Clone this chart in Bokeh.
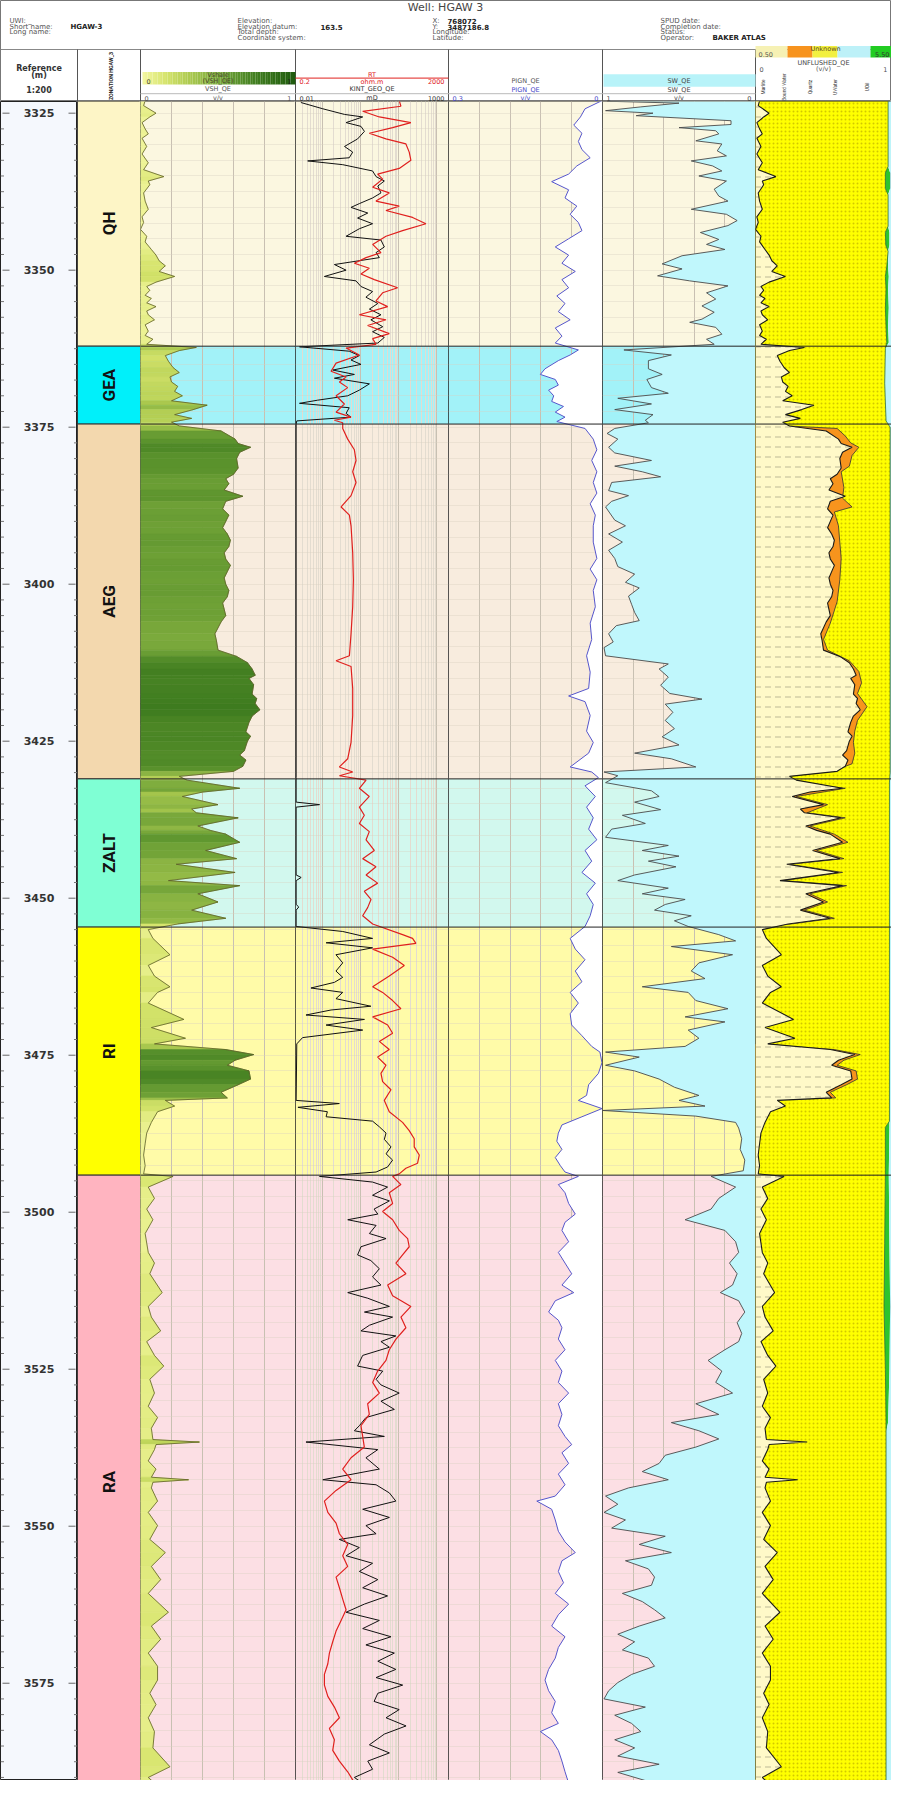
import numpy as np
from bokeh.plotting import figure
from bokeh.layouts import column, row
from bokeh.models import Range1d, LogScale, FixedTicker, Span
from bokeh.core.properties import value
from bokeh.embed import file_html
from bokeh.resources import INLINE

# ---------------- zonation / reference ----------------
ZONE_NAMES = ["QH", "GEA", "AEG", "ZALT", "RI", "RA"]
ZONE_TOPS = [3323.0, 3362.1, 3374.5, 3431.0, 3454.6, 3494.1]
ZONE_BASES = [3362.1, 3374.5, 3431.0, 3454.6, 3494.1, 3592.0]
ZONE_COLORS = ["#FDF5C6", "#00F0FA", "#F3D8AE", "#7FFFD4", "#FFFF00", "#FFB4C0"]
TRACK_TINTS = ["#FBF7E0", "#A2F2F8", "#F8ECDE", "#D2F8EE", "#FFFBA8", "#FCDFE4"]
DEPTH_LABELS = [3325, 3350, 3375, 3400, 3425, 3450, 3475, 3500, 3525, 3550, 3575]

# ---------------- VSH_QE (v/v) ----------------
VSH_DEPTH = [
    3323.0, 3323.8, 3325.0, 3325.6, 3326.5, 3327.5, 3328.3, 3329.0, 3330.3, 3331.5,
    3332.9, 3334.0, 3335.1, 3335.8, 3336.4, 3337.7, 3339.0, 3340.3, 3341.5, 3342.4,
    3343.5, 3344.6, 3345.5, 3346.7, 3347.6, 3348.5, 3349.3, 3350.2, 3351.0, 3351.9,
    3352.6, 3353.2, 3354.0, 3354.5, 3355.2, 3355.8, 3356.5, 3357.1, 3357.9, 3358.7,
    3359.7, 3360.4, 3361.0, 3361.8,
    3362.3, 3362.8, 3363.6, 3364.5, 3365.5, 3366.3, 3367.0, 3367.8, 3368.5, 3369.3,
    3370.0, 3370.8, 3371.5, 3372.2, 3373.0, 3373.6, 3374.2,
    3374.8, 3375.6, 3376.9, 3377.6, 3378.2, 3379.0, 3380.0, 3381.5, 3382.5, 3383.2,
    3384.0, 3385.0, 3386.0, 3386.8, 3388.0, 3389.0, 3390.0, 3391.0, 3392.0, 3393.0,
    3394.0, 3395.0, 3396.0, 3397.0, 3398.0, 3399.0, 3400.0, 3401.0, 3402.0, 3403.0,
    3404.0, 3405.0, 3406.0, 3407.9, 3409.0, 3410.5, 3411.5, 3412.5, 3413.5, 3414.5,
    3415.0, 3416.0, 3417.5, 3418.2, 3419.0, 3420.0, 3421.0, 3422.0, 3423.5, 3424.2,
    3425.0, 3426.5, 3427.2, 3428.0, 3429.0, 3429.8, 3430.6,
    3431.2, 3432.5, 3433.1, 3433.8, 3435.1, 3435.8, 3436.4, 3437.2, 3438.5, 3439.2,
    3439.8, 3441.1, 3442.4, 3443.7, 3444.6, 3445.9, 3447.2, 3448.0, 3449.3, 3450.6,
    3451.9, 3453.2, 3454.1,
    3455.0, 3456.4, 3459.0, 3460.7, 3462.4, 3464.1, 3465.0, 3466.7, 3469.3, 3470.6,
    3472.3, 3473.2, 3474.1, 3474.9, 3475.8, 3476.6, 3477.5, 3478.8, 3479.7, 3480.9,
    3481.8, 3482.2, 3483.1, 3484.0, 3485.7, 3487.4, 3489.1, 3490.9, 3492.6, 3493.9,
    3494.3, 3496.0, 3497.8, 3499.5, 3501.2, 3503.4, 3506.4, 3508.1, 3509.8, 3512.8,
    3515.0, 3516.7, 3518.9, 3520.6, 3522.8, 3524.5, 3526.6, 3528.8, 3530.9, 3532.7,
    3534.4, 3536.2, 3536.6, 3537.0, 3537.8, 3539.6, 3540.9, 3542.2, 3542.6, 3543.0,
    3543.9, 3546.0, 3547.8, 3549.9, 3552.1, 3554.2, 3556.4, 3558.5, 3560.7, 3563.7,
    3565.9, 3568.0, 3570.2, 3572.3, 3574.5, 3576.6, 3578.4, 3580.5, 3582.7, 3585.3,
    3588.3, 3590.0, 3591.3]
VSH = [
    0.03, 0.02, 0.10, 0.06, 0.01, 0.03, 0.05, 0.01, 0.04, 0.01,
    0.05, 0.02, 0.15, 0.05, 0.06, 0.02, 0.03, 0.05, 0.01, 0.02,
    0.00, 0.04, 0.03, 0.07, 0.10, 0.12, 0.16, 0.12, 0.22, 0.10,
    0.04, 0.06, 0.03, 0.07, 0.04, 0.10, 0.04, 0.05, 0.09, 0.03,
    0.05, 0.03, 0.08, 0.04,
    0.36, 0.25, 0.16, 0.18, 0.21, 0.25, 0.19, 0.20, 0.24, 0.22,
    0.27, 0.20, 0.43, 0.34, 0.22, 0.33, 0.20,
    0.25, 0.52, 0.61, 0.63, 0.71, 0.64, 0.62, 0.63, 0.60, 0.55,
    0.57, 0.54, 0.66, 0.55, 0.53, 0.57, 0.55, 0.53, 0.56, 0.58,
    0.57, 0.54, 0.55, 0.58, 0.56, 0.54, 0.55, 0.57, 0.56, 0.53,
    0.54, 0.55, 0.52, 0.48, 0.49, 0.50, 0.62, 0.69, 0.72, 0.74,
    0.70, 0.73, 0.72, 0.75, 0.74, 0.77, 0.72, 0.70, 0.68, 0.71,
    0.69, 0.67, 0.64, 0.68, 0.66, 0.60, 0.25,
    0.30, 0.64, 0.40, 0.27, 0.50, 0.33, 0.36, 0.63, 0.37, 0.45,
    0.55, 0.64, 0.42, 0.62, 0.23, 0.61, 0.18, 0.64, 0.37, 0.50,
    0.33, 0.55, 0.24,
    0.05, 0.08, 0.19, 0.05, 0.09, 0.19, 0.11, 0.05, 0.28, 0.07,
    0.29, 0.09, 0.55, 0.73, 0.61, 0.56, 0.70, 0.71, 0.63, 0.52,
    0.56, 0.16, 0.22, 0.11, 0.07, 0.04, 0.03, 0.02, 0.03, 0.02,
    0.21, 0.05, 0.09, 0.04, 0.08, 0.03, 0.05, 0.09, 0.06, 0.14,
    0.05, 0.07, 0.13, 0.04, 0.09, 0.15, 0.06, 0.09, 0.05, 0.11,
    0.07, 0.08, 0.38, 0.10, 0.09, 0.05, 0.10, 0.07, 0.31, 0.08,
    0.07, 0.11, 0.05, 0.11, 0.06, 0.16, 0.07, 0.13, 0.05, 0.18,
    0.07, 0.13, 0.05, 0.11, 0.11, 0.06, 0.10, 0.05, 0.09, 0.08,
    0.19, 0.05, 0.11]

# ---------------- RT (ohm.m) ----------------
RT_DEPTH = [
    3323.0, 3323.9, 3324.7, 3325.6, 3326.5, 3327.3, 3328.2, 3329.1, 3329.9, 3331.2,
    3332.5, 3333.8, 3334.7, 3335.5, 3336.8, 3337.7, 3339.0, 3339.8, 3340.5, 3341.6,
    3342.6, 3343.7, 3344.6, 3345.9, 3347.2, 3348.0, 3348.9, 3349.7, 3350.6, 3351.5,
    3352.8, 3353.6, 3354.9, 3355.8, 3357.1, 3357.9, 3358.8, 3360.1, 3360.9, 3361.8,
    3362.4, 3363.5, 3364.8, 3366.1, 3367.0, 3367.8, 3368.7, 3370.0, 3371.3, 3372.6,
    3373.4, 3373.9, 3374.3,
    3375.2, 3376.9, 3378.6, 3380.3, 3382.1, 3383.8, 3385.9, 3387.7, 3389.0, 3390.7,
    3395.0, 3399.3, 3403.6, 3407.9, 3411.4, 3412.2, 3413.1, 3416.6, 3420.9, 3425.2,
    3427.8, 3429.1, 3429.9, 3430.5,
    3431.2, 3432.5, 3433.8, 3435.5, 3436.8, 3438.1, 3439.4, 3440.7, 3442.4, 3443.7,
    3445.0, 3446.3, 3447.6, 3448.9, 3450.2, 3451.5, 3452.8, 3454.1,
    3455.8, 3456.4, 3457.2, 3458.1, 3459.4, 3460.7, 3462.4, 3464.1, 3465.0, 3466.3,
    3467.6, 3468.9, 3470.2, 3471.5, 3472.8, 3474.1, 3475.3, 3476.6, 3477.9, 3479.2,
    3480.5, 3482.2, 3484.0, 3485.7, 3487.0, 3488.3, 3489.6, 3490.9, 3492.2, 3493.0,
    3493.9,
    3494.3, 3495.6, 3496.9, 3498.6, 3499.9, 3501.2, 3502.9, 3504.2, 3505.5, 3506.8,
    3508.1, 3509.8, 3511.6, 3513.3, 3515.0, 3516.7, 3518.4, 3520.2, 3521.9, 3523.6,
    3525.3, 3527.1, 3528.8, 3530.5, 3532.2, 3534.0, 3535.7, 3537.4, 3539.1, 3540.9,
    3542.6, 3544.3, 3546.0, 3547.8, 3549.5, 3551.2, 3552.9, 3554.7, 3556.4, 3558.1,
    3559.8, 3561.6, 3563.3, 3565.0, 3566.7, 3568.4, 3570.2, 3571.9, 3573.6, 3575.3,
    3577.1, 3578.8, 3580.5, 3582.2, 3584.0, 3585.7, 3587.4, 3589.1, 3590.4, 3591.3]
RT = [
    103, 114, 11.4, 31.1, 208, 69.2, 17.0, 46.4, 154, 188,
    208, 103, 28.1, 37.9, 20.8, 56.6, 25.4, 103, 46.4, 230,
    513, 126, 46.4, 20.8, 34.3, 14.0, 6.92, 17.0, 10.3, 23.0,
    93.5, 37.9, 25.4, 51.3, 9.35, 46.4, 15.4, 56.6, 20.8, 25.4,
    4.20, 9.35, 2.30, 1.70, 4.20, 2.81, 4.63, 2.30, 3.79, 2.30,
    5.66, 2.08, 3.43,
    3.43, 4.63, 6.92, 7.65, 6.26, 7.65, 5.66, 3.11, 5.13, 5.66,
    6.26, 6.52, 6.26, 5.66, 5.13, 2.30, 5.66, 6.26, 6.26, 5.66,
    4.63, 2.81, 6.26, 2.81,
    14.0, 9.35, 17.0, 9.35, 12.6, 9.35, 17.0, 14.0, 23.0, 11.4,
    25.4, 14.0, 28.1, 12.6, 18.8, 15.4, 11.4, 20.8,
    126, 230, 281, 20.8, 69.2, 140, 56.6, 20.8, 37.9, 69.2,
    114, 20.8, 51.3, 69.2, 31.1, 56.6, 28.1, 46.4, 34.3, 37.9,
    62.6, 42.0, 56.6, 126, 188, 254, 254, 344, 311, 154,
    103,
    69.2, 114, 56.6, 69.2, 37.9, 69.2, 103, 171, 188, 126,
    84.5, 154, 51.3, 69.2, 208, 114, 154, 84.5, 56.6, 46.4,
    28.1, 20.8, 31.1, 15.4, 17.0, 10.3, 11.4, 12.6, 5.66, 3.43,
    5.66, 2.30, 1.14, 1.40, 2.30, 2.81, 4.63, 3.43, 4.63, 2.30,
    2.81, 3.43, 4.20, 3.11, 2.30, 1.88, 1.54, 1.40, 1.14, 1.14,
    1.40, 2.08, 2.81, 1.54, 2.08, 1.88, 2.81, 4.63, 6.26, 7.65]

# ---------------- KINT_GEO_QE (mD) ----------------
KINT_DEPTH = [
    3323.3, 3324.3, 3325.2, 3325.6, 3326.5, 3327.1, 3327.9, 3329.1, 3330.3, 3331.2,
    3332.1, 3332.6, 3333.2, 3334.2, 3335.1, 3335.8, 3336.6, 3337.7, 3338.5, 3339.4,
    3340.0, 3340.9, 3341.7, 3342.6, 3343.4, 3344.6, 3345.2, 3346.3, 3347.2, 3348.0,
    3349.1, 3350.0, 3351.0, 3351.7, 3352.6, 3353.4, 3354.3, 3355.3, 3356.2, 3357.1,
    3357.9, 3359.0, 3359.8, 3360.7, 3361.6,
    3362.2, 3362.9, 3363.6, 3364.3, 3365.0, 3365.9, 3366.6, 3367.2, 3368.1, 3369.1,
    3370.0, 3370.7, 3371.2, 3371.9, 3372.8, 3373.4, 3374.0,
    3374.5, 3430.8, 3434.7, 3435.1, 3435.5, 3446.3, 3446.7, 3447.2, 3451.0, 3451.4,
    3451.9, 3454.5,
    3455.3, 3456.4, 3457.1, 3457.9, 3459.0, 3460.3, 3461.6, 3462.6, 3463.4, 3464.3,
    3465.0, 3466.0, 3467.2, 3467.8, 3468.6, 3469.3, 3470.2, 3471.0, 3472.2, 3473.2,
    3482.2, 3482.7, 3483.3, 3484.0, 3484.8, 3485.5, 3486.4, 3487.4, 3488.4, 3489.6,
    3490.7, 3491.7, 3492.8, 3493.6,
    3494.3, 3495.2, 3496.0, 3497.3, 3498.2, 3499.5, 3500.3, 3501.2, 3502.1, 3503.4,
    3504.2, 3505.5, 3506.8, 3507.7, 3509.0, 3510.3, 3511.6, 3512.8, 3513.7, 3515.0,
    3515.9, 3516.7, 3518.0, 3518.9, 3519.7, 3520.6, 3521.5, 3522.8, 3524.5, 3525.3,
    3526.6, 3527.5, 3528.8, 3530.1, 3531.4, 3532.7, 3534.0, 3534.8, 3535.7, 3536.6,
    3537.8, 3539.1, 3540.9, 3542.6, 3543.4, 3544.7, 3546.0, 3547.3, 3548.6, 3549.9,
    3551.2, 3552.1, 3553.4, 3554.7, 3555.9, 3557.2, 3558.5, 3559.8, 3561.1, 3562.4,
    3563.7, 3565.0, 3566.3, 3567.6, 3568.9, 3570.2, 3571.5, 3572.8, 3574.1, 3575.3,
    3576.6, 3577.9, 3579.2, 3580.5, 3581.8, 3583.1, 3584.8, 3586.1, 3587.4, 3588.7,
    3590.0, 3591.3]
KINT = [
    0.015, 0.078, 0.40, 1.57, 0.45, 1.38, 1.79, 1.07, 0.40, 0.74,
    0.57, 0.025, 0.35, 3.3, 4.3, 8.0, 4.9, 6.2, 3.3, 1.22,
    0.65, 2.3, 1.07, 3.3, 1.22, 0.45, 6.2, 8.0, 4.3, 5.5,
    0.187, 0.45, 0.088, 0.95, 1.38, 3.3, 2.0, 4.9, 2.6, 6.2,
    2.9, 7.1, 3.3, 8.0, 4.9,
    0.0135, 0.57, 1.22, 0.65, 1.38, 0.165, 0.84, 0.187, 2.6, 1.22,
    0.51, 0.053, 0.0135, 0.57, 0.45, 0.65, 0.011,
    0.0105, 0.0105, 0.0105, 0.061, 0.0105, 0.0105, 0.0153, 0.0105, 0.0105, 0.0128,
    0.0105, 0.0105,
    0.35, 3.3, 0.1, 3.3, 0.21, 0.35, 0.21, 0.35, 0.187, 0.032,
    0.35, 0.21, 2.9, 0.145, 0.022, 1.79, 0.1, 1.57, 0.017, 0.011,
    0.0105, 0.27, 0.012, 0.11, 0.1, 3.3, 5.5, 9.1, 8.0, 13.2,
    9.1, 14.9, 10.2, 4.3,
    0.061, 3.3, 10.2, 3.3, 11.7, 3.7, 4.9, 0.51, 4.3, 2.6,
    9.1, 1.38, 1.07, 2.9, 5.5, 3.3, 6.2, 0.51, 2.3, 11.7,
    1.79, 14.9, 2.6, 1.38, 19.0, 6.2, 11.7, 1.57, 1.07, 7.1,
    4.3, 6.2, 24.5, 6.2, 17.0, 2.0, 1.22, 0.84, 8.0, 0.022,
    4.9, 2.0, 5.5, 0.078, 4.3, 11.7, 19.0, 1.57, 11.7, 2.0,
    4.3, 0.27, 1.22, 0.45, 3.3, 1.22, 4.9, 1.57, 10.2, 1.79,
    0.45, 5.5, 1.57, 13.2, 2.0, 17.0, 4.9, 19.0, 4.3, 31.8,
    4.9, 3.7, 24.5, 9.1, 41.0, 8.0, 2.6, 11.7, 2.3, 3.3,
    0.84, 2.0]

# ---------------- PIGN_QE (v/v) ----------------
PIGN_DEPTH = [
    3323.0, 3324.3, 3325.6, 3326.9, 3328.2, 3329.5, 3330.8, 3332.1, 3333.4, 3334.7,
    3335.9, 3337.2, 3338.5, 3339.8, 3341.1, 3342.4, 3343.7, 3345.0, 3346.3, 3347.6,
    3348.9, 3350.2, 3351.5, 3352.8, 3354.1, 3355.3, 3356.6, 3357.9, 3359.2, 3360.5,
    3361.6,
    3362.7, 3363.5, 3364.4, 3365.7, 3366.6, 3367.4, 3368.3, 3369.1, 3370.0, 3370.9,
    3371.7, 3372.6, 3373.4, 3374.1,
    3375.2, 3376.9, 3378.6, 3380.3, 3382.1, 3383.8, 3385.5, 3387.2, 3389.0, 3390.7,
    3393.3, 3395.9, 3397.6, 3399.3, 3401.0, 3403.6, 3406.2, 3408.8, 3411.4, 3414.0,
    3416.6, 3417.8, 3418.7, 3420.9, 3423.4, 3425.2, 3426.9, 3429.1, 3429.9, 3430.8,
    3432.1, 3433.8, 3435.5, 3437.2, 3439.0, 3440.7, 3442.4, 3444.1, 3445.9, 3447.6,
    3449.3, 3451.0, 3452.8, 3454.5,
    3456.4, 3458.1, 3459.8, 3461.6, 3463.3, 3465.0, 3466.7, 3468.4, 3470.2, 3471.9,
    3473.6, 3474.5, 3476.2, 3477.9, 3479.7, 3481.4, 3482.2, 3483.5, 3484.8, 3486.1,
    3487.4, 3488.7, 3490.0, 3491.3, 3492.6, 3493.6,
    3494.3, 3495.6, 3496.9, 3498.6, 3500.3, 3501.6, 3502.9, 3504.7, 3506.4, 3508.1,
    3509.8, 3511.6, 3512.8, 3514.1, 3515.9, 3517.2, 3518.4, 3520.2, 3521.9, 3523.6,
    3525.3, 3527.1, 3528.8, 3530.5, 3532.2, 3534.0, 3535.7, 3537.0, 3538.3, 3540.0,
    3541.7, 3543.4, 3545.2, 3546.0, 3547.3, 3549.0, 3550.8, 3552.5, 3554.2, 3555.5,
    3557.2, 3559.0, 3560.7, 3562.4, 3564.1, 3565.9, 3567.6, 3569.3, 3571.0, 3572.8,
    3574.5, 3576.2, 3577.9, 3579.7, 3581.4, 3582.7, 3584.0, 3585.7, 3587.4, 3589.1,
    3590.9]
PIGN = [
    0.001, 0.034, 0.043, 0.056, 0.040, 0.047, 0.040, 0.024, 0.050, 0.066,
    0.099, 0.066, 0.073, 0.050, 0.063, 0.047, 0.040, 0.066, 0.092, 0.066,
    0.079, 0.053, 0.079, 0.066, 0.089, 0.073, 0.086, 0.063, 0.092, 0.079,
    0.092,
    0.047, 0.063, 0.086, 0.112, 0.121, 0.092, 0.086, 0.105, 0.095, 0.099,
    0.076, 0.092, 0.073, 0.089,
    0.034, 0.018, 0.011, 0.021, 0.011, 0.018, 0.011, 0.024, 0.014, 0.018,
    0.018, 0.011, 0.024, 0.011, 0.018, 0.014, 0.024, 0.021, 0.031, 0.024,
    0.027, 0.066, 0.034, 0.024, 0.031, 0.018, 0.027, 0.063, 0.021, 0.008,
    0.034, 0.014, 0.031, 0.018, 0.027, 0.011, 0.034, 0.021, 0.040, 0.014,
    0.031, 0.018, 0.024, 0.034,
    0.063, 0.053, 0.034, 0.053, 0.040, 0.063, 0.047, 0.063, 0.060, 0.040,
    0.021, 0.005, 0.001, 0.008, 0.027, 0.031, 0.047, 0.001, 0.040, 0.079,
    0.086, 0.089, 0.079, 0.092, 0.082, 0.073,
    0.047, 0.086, 0.073, 0.066, 0.053, 0.073, 0.079, 0.066, 0.086, 0.073,
    0.060, 0.079, 0.056, 0.092, 0.105, 0.086, 0.079, 0.086, 0.073, 0.092,
    0.079, 0.086, 0.066, 0.086, 0.079, 0.086, 0.073, 0.060, 0.079, 0.066,
    0.086, 0.073, 0.092, 0.128, 0.099, 0.092, 0.086, 0.073, 0.053, 0.079,
    0.086, 0.076, 0.092, 0.066, 0.086, 0.099, 0.073, 0.086, 0.092, 0.105,
    0.112, 0.105, 0.092, 0.099, 0.086, 0.121, 0.099, 0.086, 0.079, 0.073,
    0.066]

# ---------------- SW_QE (v/v) ----------------
SW_DEPTH = [
    3323.1, 3323.4, 3324.0, 3324.6, 3325.0, 3325.4, 3326.2, 3326.8, 3327.3, 3327.8,
    3328.3, 3329.4, 3329.9, 3331.0, 3331.8, 3332.6, 3333.4, 3334.2, 3335.0, 3335.8,
    3337.1, 3338.2, 3339.0, 3340.3, 3341.1, 3342.1, 3342.9, 3344.0, 3345.1, 3345.9,
    3346.7, 3347.7, 3349.0, 3349.8, 3350.9, 3351.7, 3352.5, 3353.6, 3354.6, 3355.7,
    3356.7, 3357.8, 3358.3, 3359.1, 3360.2, 3361.0, 3361.8,
    3362.7, 3363.5, 3364.4, 3365.7, 3366.6, 3367.4, 3368.7, 3369.6, 3370.4, 3371.3,
    3372.2, 3373.0, 3373.9, 3374.3,
    3375.2, 3376.0, 3376.9, 3378.2, 3379.1, 3380.3, 3381.2, 3382.1, 3382.9, 3383.8,
    3385.1, 3385.9, 3386.8, 3387.7, 3389.8, 3390.7, 3392.0, 3393.3, 3394.6, 3395.9,
    3397.2, 3398.4, 3399.7, 3400.6, 3401.9, 3403.2, 3404.5, 3405.8, 3406.6, 3407.9,
    3409.2, 3410.1, 3411.4, 3412.7, 3413.5, 3414.8, 3416.1, 3417.4, 3418.3, 3419.1,
    3420.4, 3421.7, 3423.0, 3424.3, 3425.6, 3426.9, 3427.8, 3429.1, 3429.9, 3430.5,
    3431.6, 3432.9, 3433.8, 3434.7, 3435.9, 3436.8, 3438.1, 3439.0, 3440.3, 3441.6,
    3442.4, 3443.3, 3444.1, 3445.0, 3446.3, 3447.2, 3448.4, 3449.3, 3450.2, 3451.0,
    3451.9, 3452.8, 3453.6, 3454.5,
    3455.8, 3456.8, 3457.7, 3459.0, 3460.3, 3461.6, 3462.8, 3464.1, 3465.0, 3466.3,
    3467.6, 3468.9, 3469.7, 3471.0, 3472.3, 3473.6, 3474.5, 3475.3, 3476.6, 3477.5,
    3478.8, 3480.1, 3481.4, 3482.2, 3483.1, 3483.8, 3484.7, 3485.7, 3486.6, 3488.3,
    3490.0, 3491.7, 3493.4,
    3494.3, 3496.0, 3497.8, 3499.5, 3501.2, 3502.9, 3504.7, 3506.4, 3508.1, 3509.8,
    3511.6, 3512.8, 3514.1, 3515.9, 3517.6, 3519.3, 3520.6, 3521.9, 3523.6, 3525.3,
    3527.1, 3528.8, 3530.5, 3532.2, 3533.5, 3534.8, 3536.1, 3537.4, 3538.7, 3540.0,
    3541.3, 3542.6, 3543.9, 3545.2, 3546.5, 3547.8, 3549.0, 3550.3, 3551.6, 3552.9,
    3554.2, 3555.5, 3556.8, 3558.1, 3559.4, 3560.7, 3562.0, 3563.3, 3564.6, 3565.9,
    3567.2, 3568.4, 3569.7, 3571.0, 3572.3, 3573.6, 3574.9, 3576.2, 3577.5, 3578.8,
    3580.1, 3581.4, 3582.7, 3584.0, 3585.3, 3586.6, 3587.9, 3589.2, 3590.5, 3591.4]
SW = [
    0.97, 0.50, 0.75, 0.98, 0.67, 0.78, 0.16, 0.16, 0.50, 0.26,
    0.24, 0.39, 0.22, 0.25, 0.19, 0.42, 0.28, 0.22, 0.37, 0.19,
    0.27, 0.24, 0.18, 0.42, 0.19, 0.12, 0.18, 0.36, 0.24, 0.32,
    0.20, 0.48, 0.61, 0.48, 0.64, 0.43, 0.18, 0.32, 0.26, 0.35,
    0.27, 0.35, 0.43, 0.26, 0.22, 0.32, 0.27,
    0.86, 0.55, 0.70, 0.70, 0.61, 0.71, 0.68, 0.57, 0.90, 0.68,
    0.92, 0.67, 0.72, 0.70,
    0.92, 0.97, 0.90, 0.96, 0.92, 0.68, 0.92, 0.74, 0.62, 0.94,
    0.96, 0.83, 0.94, 0.98, 0.92, 0.85, 0.96, 0.87, 0.96, 0.92,
    0.90, 0.79, 0.85, 0.76, 0.83, 0.81, 0.79, 0.76, 0.91, 0.96,
    0.93, 0.99, 0.98, 0.57, 0.63, 0.57, 0.62, 0.56, 0.35, 0.59,
    0.54, 0.59, 0.53, 0.61, 0.50, 0.79, 0.55, 0.39, 0.99, 0.90,
    0.98, 0.68, 0.63, 0.79, 0.62, 0.87, 0.72, 0.94, 0.98, 0.57,
    0.74, 0.50, 0.70, 0.52, 0.79, 0.90, 0.57, 0.74, 0.46, 0.59,
    0.66, 0.42, 0.53, 0.44,
    0.24, 0.13, 0.55, 0.15, 0.37, 0.42, 0.33, 0.74, 0.44, 0.39,
    0.18, 0.46, 0.20, 0.44, 0.37, 0.46, 0.98, 0.76, 0.98, 0.79,
    0.63, 0.53, 0.37, 0.50, 0.33, 1.00, 0.39, 0.13, 0.11, 0.09,
    0.10, 0.07, 0.08,
    0.29, 0.13, 0.24, 0.29, 0.46, 0.20, 0.13, 0.11, 0.17, 0.12,
    0.15, 0.23, 0.11, 0.07, 0.12, 0.09, 0.11, 0.20, 0.31, 0.22,
    0.26, 0.15, 0.39, 0.24, 0.55, 0.37, 0.24, 0.39, 0.59, 0.63,
    0.74, 0.57, 0.83, 0.98, 0.90, 0.99, 0.85, 0.94, 0.59, 0.76,
    0.55, 0.85, 0.70, 0.66, 0.68, 0.87, 0.74, 0.66, 0.59, 0.76,
    0.90, 0.79, 0.87, 0.70, 0.66, 0.81, 0.90, 0.96, 0.99, 0.72,
    0.92, 0.81, 0.75, 0.92, 0.79, 0.90, 0.63, 0.90, 0.72, 0.79]

# ---------------- UNFLUSHED_QE lithology (v/v, cumulative) ----------------
BWAT_DEPTH = [
    3374.6, 3375.2, 3376.4, 3377.5, 3378.2, 3379.5, 3381.2, 3382.1, 3384.6, 3386.3,
    3387.7, 3388.5, 3390.7, 3393.3, 3395.9, 3399.3, 3402.8, 3406.2, 3408.8, 3410.5,
    3412.2, 3413.9, 3415.7, 3417.4, 3419.5, 3421.7, 3423.4, 3425.2, 3426.9, 3428.6,
    3429.5, 3430.4,
    3431.0, 3432.5, 3433.8, 3435.1, 3436.4, 3437.2, 3438.5, 3439.8, 3441.1, 3442.4,
    3443.7, 3444.6, 3445.9, 3447.2, 3448.0, 3449.3, 3450.6, 3451.9, 3453.2, 3454.1,
    3454.6, 3473.2, 3474.1, 3474.9, 3475.8, 3476.6, 3477.5, 3478.8, 3479.7, 3480.9,
    3481.8, 3482.2]
BWAT = [
    0.05, 0.60, 0.66, 0.70, 0.76, 0.71, 0.69, 0.63, 0.65, 0.64,
    0.71, 0.58, 0.61, 0.62, 0.63, 0.62, 0.60, 0.55, 0.50, 0.53,
    0.69, 0.76, 0.78, 0.75, 0.82, 0.75, 0.73, 0.72, 0.73, 0.71,
    0.60, 0.30,
    0.05, 0.66, 0.30, 0.53, 0.38, 0.66, 0.40, 0.58, 0.68, 0.45,
    0.65, 0.25, 0.64, 0.20, 0.67, 0.40, 0.53, 0.36, 0.58, 0.26,
    0.00, 0.00, 0.58, 0.77, 0.65, 0.60, 0.74, 0.75, 0.67, 0.55,
    0.59, 0.00]
FLUID_DEPTH = [
    3323.0, 3333.5, 3334.5, 3337.0, 3338.0, 3343.0, 3344.0, 3346.0, 3347.0, 3349.5,
    3351.0, 3353.0, 3356.0, 3359.0, 3361.5, 3362.5, 3368.0, 3374.0, 3375.0, 3430.0,
    3431.5, 3485.5, 3486.5, 3494.0, 3505.0, 3515.0, 3525.0, 3533.5, 3535.0, 3592.0]
QUARTZ_END = [
    0.975, 0.975, 0.955, 0.955, 0.975, 0.975, 0.955, 0.958, 0.975, 0.965,
    0.955, 0.960, 0.955, 0.960, 0.965, 0.955, 0.950, 0.960, 0.990, 0.990,
    0.985, 0.985, 0.955, 0.955, 0.950, 0.945, 0.955, 0.960, 0.960, 0.960]
OIL_END = [
    0.975, 0.975, 0.990, 0.990, 0.975, 0.975, 0.985, 0.985, 0.975, 0.975,
    0.980, 0.975, 0.980, 0.975, 0.980, 0.955, 0.950, 0.960, 0.990, 0.990,
    0.985, 0.985, 0.985, 0.980, 0.985, 0.990, 0.985, 0.975, 0.960, 0.960]

# ---------------- layout constants ----------------
TRACK_W = [77, 63, 155, 153, 154, 153, 136]
HDR_H = 101
BODY_H = 1679
TOP_D, BASE_D = 3323.14, 3590.49
YR = Range1d(start=BASE_D, end=TOP_D)
FONT = value("DejaVu Sans")
COND = value("Roboto")
GRID_Y = [3325 + 2.5 * k for k in range(107)]

VSH_ANCHORS = [(0.0, "#F4F7A2"), (0.15, "#D6E46C"), (0.3, "#AECB50"), (0.45, "#84B040"),
               (0.6, "#5F962F"), (0.75, "#3F7C1F"), (1.0, "#1E5A0D")]


def vsh_color(t):
    t = min(max(t, 0.0), 1.0)
    for (p0, c0), (p1, c1) in zip(VSH_ANCHORS[:-1], VSH_ANCHORS[1:]):
        if t <= p1:
            f = (t - p0) / (p1 - p0)
            a = [int(c0[i:i + 2], 16) for i in (1, 3, 5)]
            b = [int(c1[i:i + 2], 16) for i in (1, 3, 5)]
            return "#%02x%02x%02x" % tuple(int(round(a[k] + (b[k] - a[k]) * f)) for k in range(3))
    return VSH_ANCHORS[-1][1]


def pairs(d, v):
    n = min(len(d), len(v))
    return list(d[:n]), list(v[:n])


def body(width, xr, log=False):
    p = figure(width=width, height=BODY_H, x_range=xr, y_range=YR,
               x_axis_type="log" if log else "linear",
               x_axis_location=None, y_axis_location=None,
               output_backend="svg", toolbar_location=None, min_border=0,
               background_fill_color="white", border_fill_color="white",
               outline_line_color="#222222", outline_line_width=1)
    p.xgrid.grid_line_color = None
    p.ygrid.grid_line_color = None
    return p


def tints(p, left, right):
    p.quad(left=left, right=right, top=ZONE_TOPS, bottom=ZONE_BASES,
           fill_color=TRACK_TINTS, line_color=None, level="image")
    p.ygrid.ticker = FixedTicker(ticks=GRID_Y)
    p.ygrid.grid_line_color = "#D8D0C0"
    p.ygrid.grid_line_alpha = 0.55
    p.ygrid.grid_line_width = 0.7


def zone_lines(p):
    for d in ZONE_TOPS[1:]:
        p.add_layout(Span(location=d, dimension="width", line_color="#222222", line_width=1))


# ---------------- reference (depth) track ----------------
pref = body(TRACK_W[0], Range1d(0, 77))
pref.background_fill_color = "#F5F8FD"
minor_d = [d for d in GRID_Y if d not in DEPTH_LABELS]
pref.segment(x0=0, x1=3.5, y0=minor_d, y1=minor_d, line_color="#777777", line_width=1)
pref.segment(x0=73.5, x1=77, y0=minor_d, y1=minor_d, line_color="#777777", line_width=1)
pref.segment(x0=2, x1=9, y0=DEPTH_LABELS, y1=DEPTH_LABELS, line_color="#666666", line_width=1)
pref.segment(x0=68, x1=75, y0=DEPTH_LABELS, y1=DEPTH_LABELS, line_color="#666666", line_width=1)
pref.text(x=38.5, y=DEPTH_LABELS, text=[str(d) for d in DEPTH_LABELS], text_font=FONT,
          text_font_size="11px", text_font_style="bold", text_color="#333333",
          text_align="center", text_baseline="middle")

# ---------------- zonation track ----------------
pz = body(TRACK_W[1], Range1d(0, 63))
pz.quad(left=0, right=63, top=ZONE_TOPS, bottom=ZONE_BASES, fill_color=ZONE_COLORS,
        line_color="#333333", line_width=1)
zmid = [(t + min(b, BASE_D + 1.3)) / 2.0 for t, b in zip(ZONE_TOPS, ZONE_BASES)]
pz.text(x=31.5, y=zmid, text=ZONE_NAMES, angle=np.pi / 2, text_font=COND,
        text_font_size="17px", text_font_style="bold", text_color="#111111",
        text_align="center", text_baseline="middle")

# ---------------- VSH track ----------------
pv = body(TRACK_W[2], Range1d(0, 1))
tints(pv, 0, 1)
pv.xgrid.ticker = FixedTicker(ticks=[0.2, 0.4, 0.6, 0.8])
pv.xgrid.grid_line_color = "#C8C0B2"
pv.xgrid.grid_line_width = 1
vd, vv = pairs(VSH_DEPTH, VSH)
pxs, pys, pcs = [], [], []
for i in range(len(vd) - 1):
    pxs.append([0, vv[i], vv[i + 1], 0])
    pys.append([vd[i], vd[i], vd[i + 1], vd[i + 1]])
    pcs.append(vsh_color(0.5 * (vv[i] + vv[i + 1])))
pv.patches(xs=pxs, ys=pys, fill_color=pcs, line_color=pcs, line_width=0.6)
pv.line(x=vv, y=vd, line_color="#5E5E28", line_width=0.8)
zone_lines(pv)

# ---------------- resistivity / permeability track ----------------
pres = body(TRACK_W[3], Range1d(0.2, 2000), log=True)
pres.extra_x_ranges = {"kint": Range1d(0.01, 1000)}
pres.extra_x_scales = {"kint": LogScale()}
tints(pres, 0.2, 2000)
res_minor = [m * 10.0 ** e for e in (-1, 0, 1, 2) for m in range(2, 10)]
pres.xgrid.ticker = FixedTicker(ticks=[1, 10, 100, 1000], minor_ticks=res_minor)
pres.xgrid.grid_line_color = "#C8C0B2"
pres.xgrid.minor_grid_line_color = "#E3DCD0"
rd, rv = pairs(RT_DEPTH, RT)
kd, kv = pairs(KINT_DEPTH, KINT)
pres.line(x=kv, y=kd, x_range_name="kint", line_color="#111111", line_width=1)
pres.line(x=rv, y=rd, line_color="#E0201E", line_width=1.2)
zone_lines(pres)

# ---------------- PIGN track ----------------
pp = body(TRACK_W[4], Range1d(0.3, 0))
tints(pp, 0, 0.3)
pp.xgrid.ticker = FixedTicker(ticks=[0.06, 0.12, 0.18, 0.24])
pp.xgrid.grid_line_color = "#C8C0B2"
gd, gv = pairs(PIGN_DEPTH, PIGN)
pp.harea(x1=gv, x2=0, y=gd, fill_color="white")
pp.line(x=gv, y=gd, line_color="#5656CC", line_width=1)
zone_lines(pp)

# ---------------- SW track ----------------
ps = body(TRACK_W[5], Range1d(1, 0))
tints(ps, 0, 1)
ps.xgrid.ticker = FixedTicker(ticks=[0.2, 0.4, 0.6, 0.8])
ps.xgrid.grid_line_color = "#C8C0B2"
sd, sv = pairs(SW_DEPTH, SW)
ps.harea(x1=sv, x2=0, y=sd, fill_color="#C0F7FC")
ps.line(x=sv, y=sd, line_color="#4A4A4A", line_width=0.9)
zone_lines(ps)

# ---------------- lithology track ----------------
pl = body(TRACK_W[6], Range1d(0, 1))
fd, qe = pairs(FLUID_DEPTH, QUARTZ_END)
fd2, oe = pairs(FLUID_DEPTH, OIL_END)
pl.harea(x1=0, x2=qe, y=fd, fill_color="#FFFF00", hatch_pattern="dot",
         hatch_color="#D2C800", hatch_scale=4, hatch_weight=0.6)
pl.harea(x1=qe, x2=oe, y=fd, fill_color="#2DC42D")
pl.harea(x1=oe, x2=1, y=fd, fill_color="#BDF4F9")
pl.line(x=qe, y=fd, line_color="#2F6F2F", line_width=0.8)
bd, bv = pairs(BWAT_DEPTH, BWAT)
pl.harea(x1=0, x2=bv, y=bd, fill_color="#F7941D")
pl.line(x=bv, y=bd, line_color="#333333", line_width=0.8)
pl.harea(x1=0, x2=vv, y=vd, fill_color="#FFF9C8", hatch_pattern="horizontal_dash",
         hatch_color="#A09C80", hatch_scale=10, hatch_weight=0.7)
pl.line(x=vv, y=vd, line_color="#1A1A1A", line_width=1.1)
zone_lines(pl)

# ---------------- header ----------------
hdr = figure(width=sum(TRACK_W), height=HDR_H, x_range=Range1d(0, sum(TRACK_W)),
             y_range=Range1d(HDR_H, 0), x_axis_location=None, y_axis_location=None,
             output_backend="svg", toolbar_location=None, min_border=0,
             background_fill_color="white", border_fill_color="white",
             outline_line_color="#777777", outline_line_width=1)
hdr.grid.visible = False


def ht(x, y, t, size="7px", color="#555555", align="left", bold=False, font=FONT, angle=0.0):
    hdr.text(x=[x], y=[y], text=[t], text_font=font, text_font_size=size, text_color=color,
             text_align=align, text_baseline="middle", angle=angle,
             text_font_style="bold" if bold else "normal")


edges = [0]
for w in TRACK_W:
    edges.append(edges[-1] + w)

ht(445, 6.5, "Well: HGAW 3", size="11px", color="#444444", align="center")
ROWS = [20.3, 26.0, 31.5, 37.0]
INFO = [
    (9, ["UWI: _", "Short name:", "Long name:"]),
    (237, ["Elevation:", "Elevation datum:", "Total depth:", "Coordinate system:"]),
    (432, ["X:", "Y:", "Longitude:", "Latitude:"]),
    (660, ["SPUD date:", "Completion date:", "Status:", "Operator:"]),
]
for x0, labels in INFO:
    for k, lab in enumerate(labels):
        ht(x0, ROWS[k], lab)
BOLD_VALUES = [(70, 26.0, "HGAW-3"), (320, 26.0, "163.5"), (447, 20.3, "768072"),
               (447, 26.0, "3487186.8"), (712, 37.0, "BAKER ATLAS")]
for x0, y0, t in BOLD_VALUES:
    ht(x0, y0, t, color="#222222", bold=True)

hdr.segment(x0=0, x1=sum(TRACK_W), y0=49, y1=49, line_color="#888888", line_width=1)
hdr.segment(x0=edges[1:-1], x1=edges[1:-1], y0=49, y1=HDR_H, line_color="#555555", line_width=1)
hdr.segment(x0=edges[2], x1=edges[6], y0=93.2, y1=93.2, line_color="#BBBBBB", line_width=1)

# reference / zonation headers
ht(38.5, 67.5, "Reference", size="8px", color="#333333", align="center", bold=True)
ht(38.5, 75.0, "(m)", size="8px", color="#333333", align="center", bold=True)
ht(38.5, 90.3, "1:200", size="8px", color="#333333", align="center", bold=True)
ht(110, 75.5, "ZONATION HGAW_3", size="5.3px", color="#222222", align="center", bold=True,
   font=COND, angle=np.pi / 2)

# VSH header with colour ramp
gx = list(np.linspace(edges[2] + 2, edges[3], 62))
hdr.quad(left=gx[:-1], right=gx[1:], top=71.5, bottom=84.0,
         fill_color=[vsh_color((i + 0.5) / 61.0) for i in range(61)], line_color=None)
cx = (edges[2] + edges[3]) / 2
ht(cx, 74.8, "Vshale", size="6.5px", color="#4A4A2A", align="center")
ht(cx, 80.6, "(VSH_QE)", size="6.5px", color="#4A4A2A", align="center")
ht(edges[2] + 6, 80.6, "0", size="6.5px", color="#4A4A2A")
ht(edges[3] - 4, 80.6, "1", size="6.5px", color="#222222", align="right")
ht(cx, 88.3, "VSH_QE", size="6.5px", color="#555555", align="center")
ht(edges[2] + 4, 97.5, "0", size="6.5px")
ht(cx, 97.5, "v/v", size="6.5px", align="center")
ht(edges[3] - 4, 97.5, "1", size="6.5px", align="right")

# resistivity header
cx = (edges[3] + edges[4]) / 2
ht(cx, 74.8, "RT", size="6.5px", color="#E0201E", align="center")
hdr.segment(x0=edges[3], x1=edges[4], y0=77.6, y1=77.6, line_color="#E0201E", line_width=1)
ht(edges[3] + 4, 81.0, "0.2", size="6.5px", color="#E0201E")
ht(cx, 81.0, "ohm.m", size="6.5px", color="#E0201E", align="center")
ht(edges[4] - 4, 81.0, "2000", size="6.5px", color="#E0201E", align="right")
ht(cx, 88.3, "KINT_GEO_QE", size="6.5px", color="#333333", align="center")
ht(edges[3] + 4, 97.5, "0.01", size="6.5px", color="#333333")
ht(cx, 97.5, "mD", size="6.5px", color="#333333", align="center")
ht(edges[4] - 4, 97.5, "1000", size="6.5px", color="#333333", align="right")

# PIGN header
cx = (edges[4] + edges[5]) / 2
ht(cx, 80.6, "PIGN_QE", size="6.5px", color="#555555", align="center")
ht(cx, 89.5, "PIGN_QE", size="6.5px", color="#4848C8", align="center")
ht(edges[4] + 4, 97.5, "0.3", size="6.5px", color="#4848C8")
ht(cx, 97.5, "v/v", size="6.5px", color="#4848C8", align="center")
ht(edges[5] - 4, 97.5, "0", size="6.5px", color="#4848C8", align="right")

# SW header
cx = (edges[5] + edges[6]) / 2
hdr.quad(left=edges[5] + 1, right=edges[6], top=73.7, bottom=86.3, fill_color="#B8F3F9",
         line_color=None)
ht(cx, 80.3, "SW_QE", size="6.5px", color="#444444", align="center")
ht(cx, 89.5, "SW_QE", size="6.5px", color="#444444", align="center")
ht(edges[5] + 4, 97.5, "1", size="6.5px", color="#444444")
ht(cx, 97.5, "v/v", size="6.5px", color="#444444", align="center")
ht(edges[6] - 4, 97.5, "0", size="6.5px", color="#444444", align="right")

# lithology header
L0 = edges[6]
LEG_X = [L0, L0 + 32, L0 + 57, L0 + 82, L0 + 115, edges[7]]
LEG_C = ["#F6F1B4", "#F7931E", "#F2F040", "#BDF1F8", "#22CC22"]
hdr.quad(left=LEG_X[:-1], right=LEG_X[1:], top=45.5, bottom=57.0, fill_color=LEG_C,
         line_color=None)
ht(L0 + 70, 48.6, "Unknown", size="6.5px", color="#5A4A1A", align="center")
ht(L0 + 3, 53.8, "0.50", size="6.5px", color="#555555")
ht(edges[7] - 2, 53.8, "5.50", size="6.5px", color="#333333", align="right")
cx = (L0 + edges[7]) / 2
ht(cx, 62.0, "UNFLUSHED_QE", size="6.5px", color="#444444", align="center")
ht(L0 + 4, 68.7, "0", size="6.5px")
ht(cx, 68.7, "(v/v)", size="6.5px", align="center")
ht(edges[7] - 4, 68.7, "1", size="6.5px", align="right")
LITH_LABELS = ["Marlite", "Bound Water", "Quartz", "UWater", "UOil"]
LITH_LX = [8, 29, 55, 80, 112]
for lx, lab in zip(LITH_LX, LITH_LABELS):
    ht(L0 + lx, 86.5, lab, size="4.8px", color="#333333", align="center", font=COND,
       angle=np.pi / 2)

layout = column(hdr, row(pref, pz, pv, pres, pp, ps, pl))
open("out.html", "w").write(file_html(layout, INLINE, title="Well: HGAW 3"))
